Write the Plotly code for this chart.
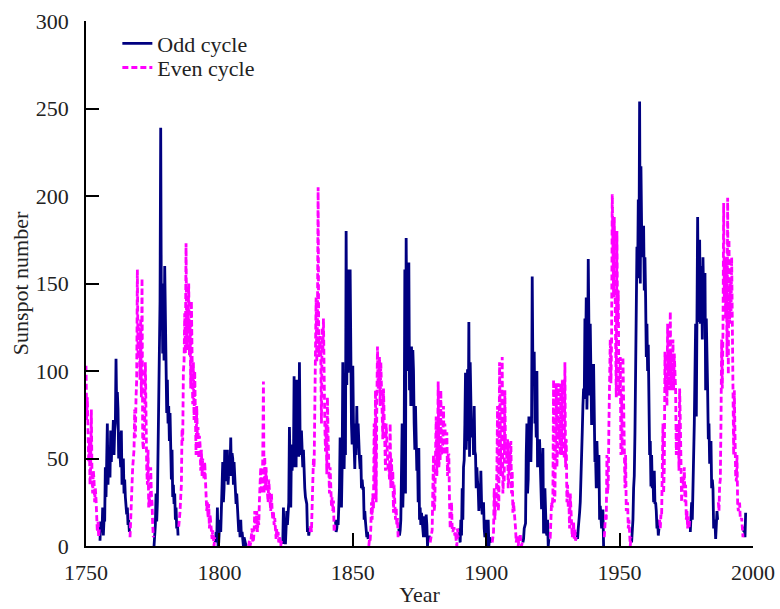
import plotly.graph_objects as go

# Quarterly sunspot numbers (4 values per year)
start_year = 1750
ssn_1750_1799 = [
    103, 72, 85, 60,   48, 62, 35, 45,   78, 40, 30, 43,   38, 25, 33, 27,   18, 8, 14, 5,
    10, 3, 14, 9,      8, 22, 6, 15,     14, 45, 28, 48,   70, 35, 52, 40,   40, 66, 48, 62,
    60, 72, 52, 66,    70, 107, 78, 88,  78, 50, 65, 52,   45, 66, 35, 40,   50, 30, 38, 28,
    24, 18, 22, 12,    15, 8, 5, 17,     22, 35, 45, 50,   55, 78, 62, 85,   95, 158, 110, 125,
    120, 95, 130, 85,  153, 60, 55, 65,  70, 105, 50, 45,  35, 55, 22, 28,   22, 45, 30, 25,
    12, 5, 0, 8,       12, 30, 14, 25,   50, 85, 95, 140,  239, 130, 150, 110, 135, 106, 160, 118,
    106, 76, 95, 70,   80, 60, 76, 55,   38, 55, 28, 35,   24, 30, 15, 22,   10, 14, 6, 11,
    15, 20, 28, 35,    67, 60, 100, 105, 133, 110, 173, 112, 137, 125, 150, 109, 128, 90, 140, 115,
    81, 105, 72, 100,  71, 52, 80, 62,   68, 50, 63, 58,   43, 55, 40, 50,   43, 38, 48, 35,
    24, 20, 25, 16,    24, 10, 18, 12,   8, 4, 9, 5,       0, 5, 2, 8,       3, 22, 0, 2,
]
ssn_1800_1849 = [
    10, 15, 8, 25,     30, 48, 25, 33,   55, 38, 50, 37,   55, 35, 42, 40,   45, 62, 40, 53,
    50, 35, 48, 36,    35, 24, 30, 23,   15, 8, 12, 5,     15, 5, 8, 4,      0, 5, 3, 2,
    0, 0, 0, 0,        0, 3, 0, 2,       5, 10, 2, 3,      8, 20, 10, 11,    20, 8, 15, 12,
    26, 40, 45, 30,    30, 50, 94, 30,   51, 32, 45, 36,   32, 25, 38, 25,   25, 20, 30, 21,
    15, 20, 12, 16,    8, 4, 10, 5,      8, 2, 5, 1,       0, 3, 2, 2,       22, 5, 6, 1,
    15, 20, 12, 19,    25, 68, 30, 22,   58, 43, 52, 45,   97, 55, 60, 45,   95, 52, 70, 51,
    105, 60, 52, 66,   52, 45, 55, 40,   33, 28, 25, 24,   8, 10, 6, 10,     8, 12, 8, 25,
    33, 50, 45, 99,    110, 142, 105, 129, 205, 108, 120, 120, 108, 70, 125, 110, 130, 89, 70, 54,
    70, 41, 85, 62,    41, 30, 45, 31,   23, 28, 20, 26,   8, 12, 15, 8,     10, 15, 12, 23,
    33, 62, 43, 22,    45, 105, 52, 44,  70, 52, 180, 92,  158, 99, 130, 112, 158, 99, 70, 58,
]
ssn_1850_1899 = [
    103, 70, 50, 44,   70, 52, 80, 56,   70, 52, 50, 44,   52, 33, 38, 33,   33, 15, 20, 14,
    10, 5, 8, 4,       0, 4, 3, 10,      25, 15, 30, 21,   70, 35, 89, 25,   80, 114, 90, 91,
    108, 80, 105, 90,  80, 61, 90, 78,   61, 43, 70, 62,   50, 43, 45, 38,   70, 33, 50, 35,
    43, 19, 35, 25,    15, 22, 12, 16,   4, 10, 6, 9,      15, 43, 70, 22,   50, 58, 158, 30,
    176, 120, 160, 100, 162, 89, 114, 80, 114, 80, 112, 100, 70, 55, 80, 60,  43, 55, 25, 56,
    15, 22, 12, 19,    15, 8, 5, 17,     15, 5, 18, 12,    0, 5, 3, 6,       2, 5, 8, 9,
    33, 52, 20, 24,    52, 74, 40, 51,   94, 45, 50, 50,   89, 52, 55, 59,   80, 52, 70, 52,
    52, 65, 40, 52,    52, 25, 10, 15,   25, 10, 8, 10,    10, 6, 8, 3,      0, 10, 5, 10,
    5, 2, 15, 6,       33, 15, 45, 49,   70, 99, 55, 68,   101, 60, 128, 51, 105, 76, 62, 69,
    70, 52, 80, 54,    52, 33, 45, 37,   33, 20, 30, 22,   43, 25, 18, 21,   25, 10, 5, 8,
]
ssn_1900_1949 = [
    15, 8, 0, 15,      0, 5, 2, 4,       4, 2, 6, 8,       33, 15, 25, 25,   43, 80, 20, 25,
    105, 52, 40, 57,   108, 30, 40, 37,  89, 52, 60, 47,   61, 33, 40, 60,   43, 60, 30, 43,
    19, 25, 15, 15,    10, 2, 5, 6,      0, 4, 3, 7,       2, 0, 2, 2,       4, 10, 12, 13,
    52, 70, 30, 38,    74, 50, 56, 48,   70, 154, 100, 92, 111, 70, 80, 62,  100, 45, 55, 55,
    61, 43, 25, 21,    33, 56, 8, 8,     33, 10, 8, 6,     15, 0, 4, 5,      5, 15, 25, 22,
    30, 95, 25, 27,    61, 93, 45, 57,   93, 61, 70, 52,   93, 52, 95, 71,   60, 50, 105, 45,
    61, 25, 35, 22,    25, 10, 30, 20,   15, 5, 10, 14,    4, 10, 3, 6,      8, 4, 10, 13,
    19, 25, 45, 55,    65, 80, 90, 84,   130, 108, 142, 78, 100, 164, 89, 86, 127, 89, 70, 70,
    70, 104, 50, 48,   51, 33, 60, 46,   33, 52, 15, 23,   15, 10, 20, 20,   0, 5, 15, 18,
    15, 52, 30, 36,    70, 89, 118, 93,  118, 201, 146, 142, 188, 146, 127, 85, 180, 127, 146, 86,
]
ssn_1950_1997 = [
    89, 108, 52, 87,   52, 108, 60, 58,  33, 52, 20, 21,   25, 10, 15, 6,    0, 5, 2, 10,
    15, 33, 40, 64,    118, 125, 171, 153, 198, 160, 254, 150, 217, 183, 165, 174, 183, 146, 165, 142,
    108, 127, 100, 115, 70, 52, 60, 34,  52, 33, 40, 25,   43, 24, 25, 20,   10, 15, 6, 10,
    15, 10, 18, 17,    43, 70, 30, 45,   111, 89, 95, 80,  127, 89, 110, 98, 134, 89, 110, 89,
    118, 89, 110, 101, 89, 52, 70, 55,   70, 43, 90, 72,   52, 25, 40, 35,   33, 45, 25, 35,
    15, 20, 10, 17,    10, 15, 8, 17,    25, 15, 35, 35,   70, 99, 127, 74,  165, 188, 140, 128,
    175, 127, 160, 156, 118, 165, 140, 139, 156, 89, 130, 89, 89, 61, 70, 47, 52, 60, 33, 38,
    33, 10, 15, 14,    4, 15, 20, 15,    25, 20, 35, 38,   70, 118, 90, 123, 196, 140, 165, 130,
    165, 108, 199, 98, 175, 127, 150, 131, 165, 108, 52, 52, 89, 52, 40, 37, 52, 24, 20, 24,
    24, 15, 15, 16,    10, 5, 8, 11,     5, 19,
]
# Start times of solar cycles 1..23 (cycle minima)
cycle_starts = [1755.2, 1766.5, 1775.5, 1784.7, 1798.3, 1810.6, 1823.3, 1833.9, 1843.5,
                1856.0, 1867.2, 1878.9, 1889.6, 1902.1, 1913.6, 1923.6, 1933.8, 1944.2,
                1954.3, 1964.9, 1976.5, 1986.8, 1996.4]

x_ticks = [1750, 1800, 1850, 1900, 1950, 2000]
y_ticks = [0, 50, 100, 150, 200, 250, 300]

values = ssn_1750_1799 + ssn_1800_1849 + ssn_1850_1899 + ssn_1900_1949 + ssn_1950_1997
times = [start_year + i / 4 for i in range(len(values))]

odd_x, odd_y, even_x, even_y = [], [], [], []
prev_cycle = None
for t, v in zip(times, values):
    cyc = sum(1 for s in cycle_starts if t >= s)
    if prev_cycle is not None and cyc != prev_cycle:
        if prev_cycle % 2 == 1:
            odd_x.append(None); odd_y.append(None)
        else:
            even_x.append(None); even_y.append(None)
    if cyc % 2 == 1:
        odd_x.append(t); odd_y.append(v)
    else:
        even_x.append(t); even_y.append(v)
    prev_cycle = cyc

FONT = "Liberation Serif"
TXT = "#222222"

fig = go.Figure()
fig.add_trace(go.Scatter(x=odd_x, y=odd_y, mode="lines", name="Odd cycle", legend="legend",
                         line=dict(color="#000080", width=2.8), connectgaps=False))
fig.add_trace(go.Scatter(x=even_x, y=even_y, mode="lines", name="Even cycle", legend="legend2",
                         line=dict(color="#FF00FF", width=2.8, dash="6px,3px"), connectgaps=False))

legend_common = dict(x=0.047, xanchor="left", yanchor="top", bgcolor="rgba(0,0,0,0)",
                     font=dict(size=22, family=FONT, color=TXT), itemwidth=30)

fig.update_layout(
    width=780, height=609,
    margin=dict(l=86, r=27, t=21, b=63),
    paper_bgcolor="white", plot_bgcolor="white",
    font=dict(family=FONT, size=22, color=TXT),
    showlegend=True,
    legend=dict(y=0.997, **legend_common),
    legend2=dict(y=0.951, **legend_common),
    xaxis=dict(range=[1750, 2000], tickvals=x_ticks, ticktext=[str(v) for v in x_ticks],
               showgrid=False, zeroline=False, showline=True, linecolor="black", linewidth=1.5,
               ticks="inside", ticklen=13, tickwidth=1.5, tickcolor="black",
               tickfont=dict(family=FONT, size=22, color=TXT), automargin=False,
               title=dict(text="Year", standoff=2, font=dict(size=22, family=FONT, color=TXT)),
               ticklabelstandoff=6),
    yaxis=dict(range=[0, 300], tickvals=y_ticks, ticktext=[str(v) for v in y_ticks],
               showgrid=False, zeroline=False, showline=True, linecolor="black", linewidth=1.5,
               ticks="inside", ticklen=13, tickwidth=1.5, tickcolor="black",
               tickfont=dict(family=FONT, size=22, color=TXT), automargin=False,
               title=dict(text="Sunspot number", standoff=1, font=dict(size=22, family=FONT, color=TXT)),
               ticklabelstandoff=11),
)

fig.write_html("out.html")
